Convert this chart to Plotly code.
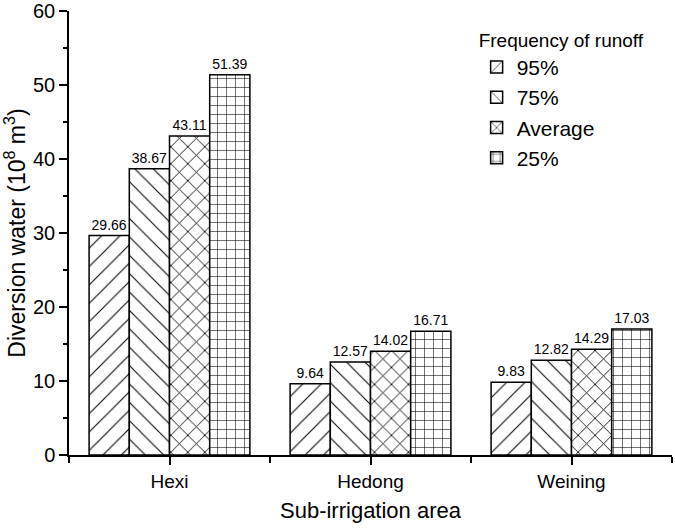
import plotly.graph_objects as go

areas = ["Hexi", "Hedong", "Weining"]
series_names = ["95%", "75%", "Average", "25%"]
values_95 = [29.66, 9.64, 9.83]
values_75 = [38.67, 12.57, 12.82]
values_avg = [43.11, 14.02, 14.29]
values_25 = [51.39, 16.71, 17.03]
series_values = [values_95, values_75, values_avg, values_25]
patterns = ["/", "\\", "x", "+"]
pattern_sizes = [13, 13, 12, 9]
pattern_solidity = [0.08, 0.08, 0.14, 0.12]

FONT = "Arial, Liberation Sans, sans-serif"
xpos = list(range(len(areas)))

fig = go.Figure()
for name, vals, pat, ps, sol in zip(series_names, series_values, patterns,
                                    pattern_sizes, pattern_solidity):
    fig.add_trace(go.Bar(
        x=xpos, y=vals, name=name,
        marker=dict(color="white",
                    line=dict(color="black", width=1.5),
                    pattern=dict(shape=pat, fgcolor="black", bgcolor="white",
                                 size=ps, solidity=sol, fillmode="replace")),
        texttemplate="%{y:.2f}", textposition="outside",
        textfont=dict(size=14, color="black", family=FONT),
        cliponaxis=False,
    ))

fig.update_layout(
    width=675, height=529,
    margin=dict(l=69, r=3, t=11, b=74),
    paper_bgcolor="white", plot_bgcolor="white",
    barmode="group", bargap=0.2, bargroupgap=0,
    font=dict(family=FONT, color="black"),
    legend=dict(
        title=dict(text="Frequency of runoff", font=dict(size=19, color="black")),
        x=0.676, y=0.975, xanchor="left", yanchor="top",
        font=dict(size=21, color="black"),
        bgcolor="rgba(0,0,0,0)", tracegroupgap=0, itemwidth=30,
    ),
    xaxis=dict(
        range=[-0.5, 2.5], tickmode="array", tickvals=xpos, ticktext=areas,
        showline=True, linecolor="black", linewidth=1.5,
        ticks="outside", ticklen=8, tickwidth=1.5, tickcolor="black",
        tickfont=dict(size=19), showgrid=False, zeroline=False,
        automargin=False,
        minor=dict(tickmode="linear", tick0=0.5, dtick=1, ticks="outside",
                   ticklen=6, tickwidth=1.5, tickcolor="black", showgrid=False),
        title=dict(text="Sub-irrigation area", font=dict(size=22), standoff=12),
    ),
    yaxis=dict(
        range=[0, 60], dtick=10, tick0=0,
        showline=True, linecolor="black", linewidth=1.5,
        ticks="outside", ticklen=8, tickwidth=1.5, tickcolor="black",
        tickfont=dict(size=20), showgrid=False, zeroline=False,
        automargin=False,
        minor=dict(dtick=5, ticks="outside", ticklen=4, tickwidth=1.5,
                   tickcolor="black", showgrid=False),
        title=dict(text="Diversion water (10<sup>8</sup> m<sup>3</sup>)",
                   font=dict(size=23), standoff=6),
    ),
)

fig.write_html("out.html",
               config={"displayModeBar": False},
               post_script="document.body.style.margin='0';document.body.style.padding='0';")
